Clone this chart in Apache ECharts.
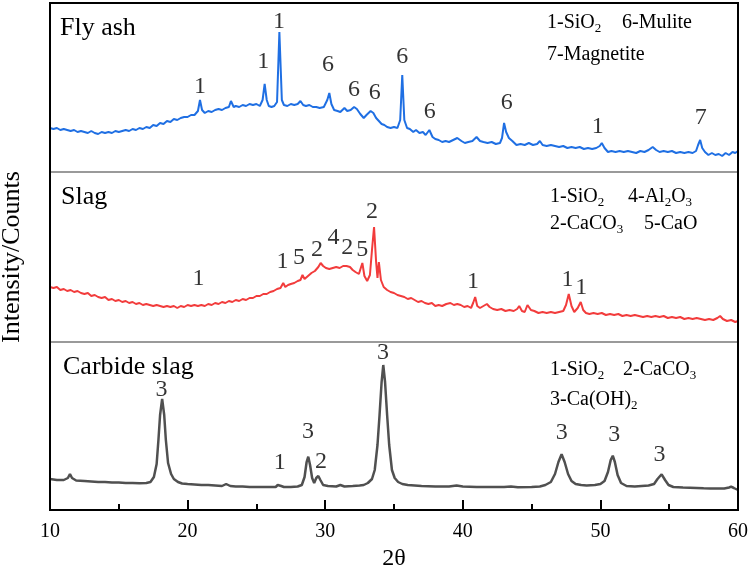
<!DOCTYPE html>
<html><head><meta charset="utf-8">
<script src="https://cdn.jsdelivr.net/npm/echarts@6/dist/echarts.min.js"></script>
<style>html,body{margin:0;padding:0;background:#fff}#c{width:751px;height:571px}</style>
</head><body><div id="c"></div>
<script>
// ---- data (2θ, relative counts within each panel) ----
const xTicks = [10, 20, 30, 40, 50, 60];
const sampleNames = ['Fly ash', 'Slag', 'Carbide slag'];

const flyAsh = [[10,44],[10.25,43],[10.5,44],[10.75,42],[11,43],[11.25,42],[11.5,41],[11.75,42],[12,40],[12.25,41],[12.5,40],[12.75,39],[13,41],[13.25,39],[13.5,38],[13.75,40],[14,39],[14.25,40],[14.5,39],[14.75,41],[15,40],[15.25,41],[15.5,42],[15.75,41],[16,43],[16.25,42],[16.5,44],[16.75,43],[17,45],[17.25,44],[17.5,47],[17.75,46],[18,49],[18.25,48],[18.5,51],[18.75,50],[19,53],[19.25,52],[19.5,54],[19.75,55],[20,55],[20.25,57],[20.5,57],[20.75,61],[20.9,72],[21.05,62],[21.25,59],[21.5,61],[21.75,60],[22,62],[22.25,63],[22.5,62],[22.75,64],[23,65],[23.15,71],[23.35,65],[23.5,66],[23.75,65],[24,67],[24.25,66],[24.5,68],[24.75,67],[25,68],[25.25,66],[25.45,72],[25.6,88],[25.75,72],[25.9,66],[26.1,65],[26.3,66],[26.5,70],[26.67,140],[26.85,72],[27,67],[27.25,66],[27.5,68],[27.75,67],[28,68],[28.2,71],[28.4,67],[28.6,66],[28.85,67],[29.1,65],[29.35,65],[29.6,64],[29.9,65],[30.15,72],[30.3,79],[30.45,68],[30.65,62],[30.9,61],[31.1,60],[31.4,64],[31.6,61],[31.85,62],[32.1,65],[32.3,63],[32.55,58],[32.8,54],[33,57],[33.3,61],[33.5,59],[33.7,54],[33.9,51],[34.1,48],[34.3,47],[34.5,45],[34.75,44],[35,45],[35.25,44],[35.45,52],[35.6,97],[35.75,52],[35.95,44],[36.15,43],[36.4,40],[36.6,42],[36.85,39],[37.1,40],[37.3,37],[37.57,42],[37.8,35],[38,33],[38.25,32],[38.5,30],[38.75,31],[39,30],[39.3,32],[39.6,34],[39.9,31],[40.15,29],[40.4,30],[40.7,31],[41,35],[41.25,31],[41.5,30],[41.8,29],[42.1,30],[42.4,28],[42.7,29],[42.85,34],[43,49],[43.15,40],[43.35,34],[43.6,31],[43.9,27],[44.2,28],[44.5,27],[44.8,29],[45.1,27],[45.4,28],[45.6,31],[45.8,27],[46.1,26],[46.4,27],[46.7,26],[47,25],[47.3,26],[47.6,24],[47.9,25],[48.2,24],[48.5,25],[48.8,23],[49.1,24],[49.4,23],[49.7,24],[49.95,26],[50.1,29],[50.3,24],[50.55,20],[50.8,21],[51.1,20],[51.4,21],[51.7,20],[52,21],[52.3,20],[52.6,19],[52.9,21],[53.2,20],[53.5,22],[53.8,25],[54.05,22],[54.3,20],[54.6,21],[54.9,20],[55.2,21],[55.5,19],[55.8,20],[56.1,19],[56.4,20],[56.7,19],[56.95,21],[57.1,27],[57.25,32],[57.4,24],[57.6,20],[57.85,17],[58.1,19],[58.35,17],[58.6,18],[58.85,16],[59.1,19],[59.35,17],[59.6,20],[59.8,19],[60,21]];

const slag = [[10,55],[10.25,54],[10.5,55],[10.75,52],[11,53],[11.25,51],[11.5,52],[11.75,50],[12,51],[12.25,49],[12.5,48],[12.75,49],[13,46],[13.25,47],[13.5,45],[13.75,44],[14,45],[14.25,42],[14.5,43],[14.75,41],[15,42],[15.25,40],[15.5,41],[15.75,39],[16,40],[16.25,38],[16.5,39],[16.75,37],[17,38],[17.25,37],[17.5,36],[17.75,37],[18,36],[18.25,35],[18.5,36],[18.75,35],[19,36],[19.25,34],[19.5,36],[19.75,35],[20,37],[20.25,36],[20.5,37],[20.75,36],[21,37],[21.25,36],[21.5,38],[21.75,37],[22,39],[22.25,38],[22.5,40],[22.75,39],[23,41],[23.25,40],[23.5,42],[23.75,41],[24,43],[24.25,42],[24.5,44],[24.75,44],[25,46],[25.25,46],[25.5,48],[25.75,48],[26,50],[26.25,51],[26.5,53],[26.75,54],[26.95,59],[27.1,55],[27.3,57],[27.5,58],[27.75,59],[28,61],[28.2,62],[28.35,67],[28.5,63],[28.75,66],[29,69],[29.25,71],[29.5,75],[29.67,79],[29.85,76],[30.05,74],[30.3,73],[30.55,74],[30.8,75],[31.05,74],[31.3,76],[31.55,76],[31.8,75],[32,72],[32.2,70],[32.45,68],[32.7,79],[32.85,66],[33.05,61],[33.25,67],[33.4,92],[33.55,115],[33.7,80],[33.8,64],[33.9,80],[34.05,62],[34.25,55],[34.5,52],[34.75,50],[35,49],[35.25,47],[35.5,46],[35.75,45],[36,43],[36.25,44],[36.5,42],[36.75,40],[37,41],[37.25,39],[37.5,38],[37.75,39],[38,36],[38.25,37],[38.5,36],[38.8,38],[39.1,39],[39.35,37],[39.6,38],[39.85,37],[40.1,35],[40.35,36],[40.6,34],[40.75,39],[40.9,45],[41.05,36],[41.25,34],[41.5,36],[41.75,38],[41.95,35],[42.2,33],[42.5,32],[42.8,33],[43.1,31],[43.4,32],[43.7,31],[43.95,33],[44.1,36],[44.3,31],[44.5,30],[44.7,37],[44.8,39],[44.95,32],[45.2,31],[45.5,29],[45.8,30],[46.1,29],[46.4,30],[46.7,29],[47,30],[47.3,31],[47.5,37],[47.7,48],[47.9,36],[48.1,30],[48.35,34],[48.57,40],[48.75,32],[48.95,29],[49.2,28],[49.5,29],[49.8,28],[50.1,29],[50.4,27],[50.7,28],[51,27],[51.3,28],[51.6,26],[51.9,27],[52.2,26],[52.5,27],[52.8,26],[53.1,25],[53.4,26],[53.7,25],[54,26],[54.3,25],[54.6,26],[54.9,24],[55.2,25],[55.5,24],[55.8,25],[56.1,23],[56.4,24],[56.7,23],[57,24],[57.3,23],[57.6,22],[57.9,23],[58.2,22],[58.5,24],[58.7,26],[58.9,23],[59.2,21],[59.5,22],[59.8,20],[60,21]];

const carbideSlag = [[10,31],[10.5,30],[11,30],[11.3,32],[11.45,36],[11.6,32],[11.9,29.5],[12.5,29],[13,28.5],[13.5,28],[14,28],[14.5,27.5],[15,27.5],[15.5,27],[16,27],[16.5,26.7],[17,27],[17.3,28],[17.55,33],[17.75,46],[17.88,70],[18,95],[18.15,111],[18.3,95],[18.42,70],[18.58,47],[18.8,36],[19,31],[19.3,28],[19.6,26.5],[20,26],[20.5,25.5],[21,25],[21.5,25],[22,24.5],[22.5,24],[22.8,26],[23.1,24],[23.5,23.5],[24,23.5],[24.5,23],[25,23],[25.5,23],[26,23],[26.4,23],[26.55,25],[26.67,27],[26.8,24],[27,23],[27.5,23],[28,23.5],[28.3,25],[28.5,33],[28.65,48],[28.77,53.3],[28.9,45],[29.05,32],[29.2,27],[29.35,32],[29.5,34],[29.65,30],[29.85,25],[30.2,24],[30.8,23.5],[31.1,25],[31.4,23.5],[32,24],[32.5,24.5],[32.8,25],[33.1,27],[33.4,31],[33.6,40],[33.8,65],[33.95,95],[34.1,128],[34.22,145],[34.35,128],[34.5,95],[34.65,65],[34.85,40],[35.05,32],[35.3,28],[35.6,26],[36,25],[36.5,24.5],[37,24],[38,23.5],[39,23.5],[39.55,24.5],[40,23.5],[41,23],[42,23],[43,23],[43.5,23.5],[44,22.7],[45,23],[45.6,23.5],[46,25],[46.4,28],[46.7,36],[46.95,48],[47.18,55.7],[47.4,48],[47.65,36],[47.9,29],[48.2,26],[48.6,25],[49,24.5],[49.6,25],[50,26],[50.3,29],[50.55,38],[50.75,50],[50.9,54.3],[51.05,48],[51.25,35],[51.5,27],[51.9,24],[52.5,23.5],[53,24],[53.5,24.5],[53.9,26],[54.15,31],[54.45,35.7],[54.7,30],[54.95,25],[55.3,23],[56,22.5],[57,22],[57.5,21.7],[58,21.5],[59,21.5],[59.35,22.5],[59.5,23.3],[59.7,22],[60,20]];

// peak labels: [2θ, height, text]
const flyAshPeaks = [[20.9,85,'1'],[25.5,110,'1'],[26.65,150,'1'],[30.2,107,'6'],[32.1,82,'6'],[33.6,79,'6'],[35.6,115,'6'],[37.6,60,'6'],[43.2,69,'6'],[49.8,45,'1'],[57.3,54,'7']];
const slagPeaks = [[20.8,63,'1'],[26.9,80,'1'],[28.1,84,'5'],[29.4,92,'2'],[30.6,104,'4'],[31.6,94,'2'],[32.7,92,'5'],[33.4,130,'2'],[40.75,60,'1'],[47.6,62,'1'],[48.6,54,'1']];
const carbidePeaks = [[18.1,120,'3'],[26.7,47,'1'],[28.75,78,'3'],[29.7,48,'2'],[34.2,157,'3'],[47.2,77,'3'],[51.0,75,'3'],[54.3,55,'3']];

// phase keys (text parts alternating normal / subscript)
const flyAshKey = [['1-SiO', '2'], ['6-Mulite'], ['7-Magnetite']];
const slagKey = [['1-SiO', '2'], ['4-Al', '2', 'O', '3'], ['2-CaCO', '3'], ['5-CaO']];
const carbideKey = [['1-SiO', '2'], ['2-CaCO', '3'], ['3-Ca(OH)', '2']];

// ---- layout ----
const FONT = '"Liberation Serif", "Times New Roman", serif';
const L = 50, W = 688;
const panelTop = [3, 172, 342];
const panelH = [169, 170, 168];
const colors = ['#1f6fe3', '#f23c3c', '#505050'];
const patterns = [flyAsh, slag, carbideSlag];
const peaks = [flyAshPeaks, slagPeaks, carbidePeaks];

const grids = panelTop.map((t, i) => ({ left: L, top: t, width: W, height: panelH[i], containLabel: false, outerBoundsMode: 'none' }));

const xAxes = grids.map((g, i) => ({
  gridIndex: i, type: 'value', min: xTicks[0], max: xTicks[xTicks.length - 1], interval: 10,
  axisLine: { show: true, lineStyle: { color: i < 2 ? '#9a9a9a' : '#000', width: 2 } },
  axisTick: { show: i === 2, inside: true, length: 10, lineStyle: { color: '#000', width: 2 } },
  minorTick: { show: i === 2, splitNumber: 2, length: 6, lineStyle: { color: '#000', width: 2 } },
  axisLabel: { show: i === 2, margin: 12, color: '#000', fontFamily: FONT, fontSize: 20 },
  splitLine: { show: false },
  name: i === 2 ? '2θ' : '', nameLocation: 'middle', nameGap: 37,
  nameTextStyle: { color: '#000', fontFamily: FONT, fontSize: 24 }
}));

const yAxes = grids.map((g, i) => ({
  gridIndex: i, type: 'value', min: 0, max: panelH[i],
  axisLine: { show: false }, axisTick: { show: false }, axisLabel: { show: false }, splitLine: { show: false },
  name: i === 1 ? 'Intensity/Counts' : '', nameLocation: 'middle', nameGap: 25, nameRotate: 90,
  nameTextStyle: { color: '#000', fontFamily: FONT, fontSize: 26 }
}));

const series = [];
patterns.forEach((p, i) => {
  series.push({
    name: sampleNames[i], type: 'line', xAxisIndex: i, yAxisIndex: i, data: p,
    showSymbol: false, symbol: 'none', lineStyle: { color: colors[i], width: i === 2 ? 2.5 : 2 },
    silent: true, z: 2
  });
  series.push({
    name: sampleNames[i] + ' peaks', type: 'scatter', xAxisIndex: i, yAxisIndex: i,
    data: peaks[i].map(d => [d[0], d[1], d[2]]), symbolSize: 1, itemStyle: { color: 'rgba(0,0,0,0)' },
    label: { show: true, position: 'inside', formatter: p => p.value[2], color: '#000', fontFamily: FONT, fontSize: 24 },
    silent: true, z: 3
  });
});

const rich = {
  t: { fontFamily: FONT, fontSize: 20, fontWeight: 'normal', color: '#000', lineHeight: 24 },
  s: { fontFamily: FONT, fontSize: 13, fontWeight: 'normal', color: '#000', lineHeight: 10, verticalAlign: 'bottom' }
};
function keyText(parts) {
  return parts.map((s, k) => (k % 2 === 0 ? '{t|' : '{s|') + s + '}').join('');
}
// key item positions: [left, centerY]
const keyPos = [
  [[547, 23], [622, 23], [547, 55]],
  [[550, 197], [628, 197], [550, 224], [644, 224]],
  [[550, 370], [623, 370], [550, 400]]
];
const keys = [flyAshKey, slagKey, carbideKey];
const titles = [];
sampleNames.forEach((n, i) => {
  titles.push({ text: n, left: [60, 61, 63][i], top: [28, 197, 367][i] - 15,
    padding: 0, textStyle: { fontFamily: FONT, fontSize: 26, fontWeight: 'normal', color: '#000', lineHeight: 30 } });
  keys[i].forEach((parts, k) => {
    titles.push({ text: keyText(parts), left: keyPos[i][k][0], top: keyPos[i][k][1] - 12, padding: 0,
      textStyle: { rich: rich, fontSize: 20, fontWeight: 'normal', fontFamily: FONT } });
  });
});

const chart = echarts.init(document.getElementById('c'), null, { renderer: 'canvas' });
chart.setOption({
  animation: false,
  backgroundColor: '#fff',
  title: titles,
  grid: grids,
  xAxis: xAxes,
  yAxis: yAxes,
  series: series,
  graphic: [{
    type: 'rect', z: 100, silent: true,
    shape: { x: L, y: panelTop[0], width: W, height: panelTop[2] + panelH[2] - panelTop[0] },
    style: { fill: 'none', stroke: '#000', lineWidth: 2 }
  }]
});
</script>
</body></html>
